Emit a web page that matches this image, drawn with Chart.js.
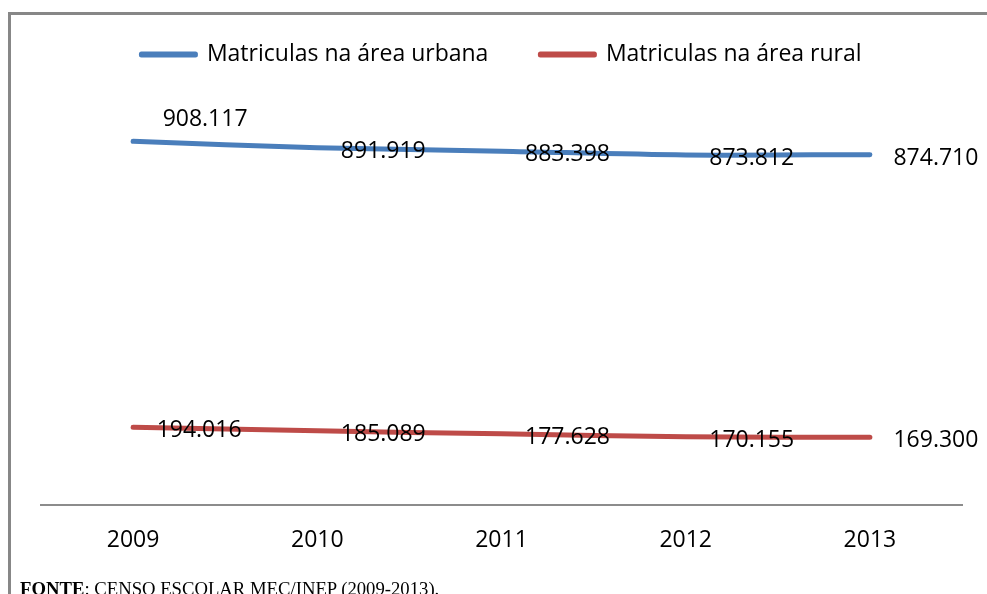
<!DOCTYPE html>
<html>
<head>
<meta charset="utf-8">
<script src="https://cdn.jsdelivr.net/npm/chart.js@4"></script>
<style>
  body { margin: 0; width: 987px; height: 594px; overflow: hidden; background: #fff; position: relative; }
  #frame { position: absolute; left: 8px; top: 12px; width: 2000px; height: 2000px;
           border-top: 3px solid #878787; border-left: 3px solid #878787; }
  #chart { position: absolute; left: 28px; top: 0; }
  #fonte { position: absolute; left: 20px; top: 580px; font-family: "Liberation Serif", serif;
           font-size: 18.7px; line-height: 18.7px; color: #000; white-space: nowrap; }
</style>
</head>
<body>
<div id="frame"></div>
<canvas id="chart" width="959" height="594"></canvas>
<div id="fonte"><b>FONTE</b>: CENSO ESCOLAR MEC/INEP (2009-2013).</div>
<script>
// dados
const anos = ['2009', '2010', '2011', '2012', '2013'];
const urbana = [908117, 891919, 883398, 873812, 874710];
const rural = [194016, 185089, 177628, 170155, 169300];
const nomes = ['Matriculas na área urbana', 'Matriculas na área rural'];

const azul = '#4a7ebb';
const vermelho = '#be4b48';
const fonte = 'Open Sans';

function fmt(v) {
  return String(v).replace(/\B(?=(\d{3})+(?!\d))/g, '.');
}

// rótulos de dados (à direita do ponto, o primeiro acima da linha)
const rotulos = {
  id: 'rotulos',
  afterDatasetsDraw(chart) {
    const ctx = chart.ctx;
    ctx.save();
    ctx.font = '23px "' + fonte + '"';
    ctx.fillStyle = '#000';
    ctx.textAlign = 'center';
    ctx.textBaseline = 'alphabetic';
    chart.data.datasets.forEach((ds, i) => {
      chart.getDatasetMeta(i).data.forEach((pt, j) => {
        let x = pt.x + 66, y = pt.y + 10;
        if (i === 0 && j === 0) { x = pt.x + 72; y = pt.y - 15; }
        ctx.fillText(fmt(ds.data[j]), x, y);
      });
    });
    ctx.restore();
  }
};

const ctx = document.getElementById('chart').getContext('2d');
new Chart(ctx, {
  type: 'line',
  data: {
    labels: anos,
    datasets: [
      { label: nomes[0], data: urbana, borderColor: azul, backgroundColor: azul },
      { label: nomes[1], data: rural, borderColor: vermelho, backgroundColor: vermelho }
    ]
  },
  options: {
    responsive: false,
    animation: false,
    devicePixelRatio: 1,
    layout: { padding: { left: 13, right: 25, top: -9, bottom: 0 } },
    elements: {
      line: { borderWidth: 5, tension: 0.3, borderCapStyle: 'round', borderJoinStyle: 'round' },
      point: { radius: 0, hoverRadius: 0 }
    },
    plugins: {
      legend: {
        position: 'top',
        labels: {
          boxWidth: 54, boxHeight: 1, padding: 52, color: '#000',
          font: { family: fonte, size: 23 }
        }
      },
      tooltip: { enabled: false }
    },
    scales: {
      x: {
        offset: true,
        grid: { display: false, drawTicks: false },
        border: { display: true, color: '#8c8c8c', width: 2 },
        ticks: { color: '#000', padding: 22, font: { family: fonte, size: 23 } },
        afterFit: (s) => { s.height = 89; }
      },
      y: {
        display: false,
        min: 0,
        max: 1071000
      }
    }
  },
  plugins: [rotulos]
});
</script>
</body>
</html>
